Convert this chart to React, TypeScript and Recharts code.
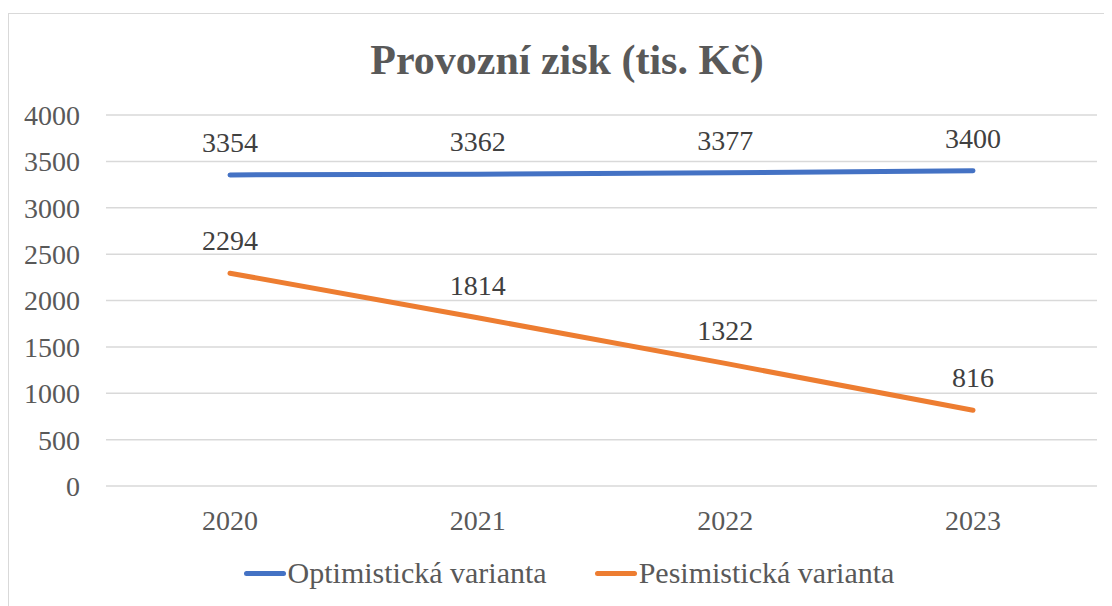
import { CartesianGrid, LabelList, Line, LineChart, XAxis, YAxis } from "recharts";

const years = ["2020", "2021", "2022", "2023"];
const optimistic = [3354, 3362, 3377, 3400];
const pessimistic = [2294, 1814, 1322, 816];
const yTicks = [0, 500, 1000, 1500, 2000, 2500, 3000, 3500, 4000];

const data = years.map((year, i) => ({
  year,
  optimistic: optimistic[i],
  pessimistic: pessimistic[i],
}));

const font = "'Liberation Serif', 'Times New Roman', serif";
const textColor = "#595959";

const legendItems = [
  { label: "Optimistická varianta", color: "#4472C4" },
  { label: "Pesimistická varianta", color: "#ED7D31" },
];

function ChartLegend() {
  return (
    <div
      style={{
        position: "absolute",
        top: 542,
        left: 0,
        width: 1120,
        display: "flex",
        justifyContent: "center",
        gap: 48,
        fontFamily: font,
        fontSize: 30,
        color: textColor,
      }}
    >
      {legendItems.map((item) => (
        <div key={item.label} style={{ display: "flex", alignItems: "center" }}>
          <span style={{ display: "inline-block", width: 42, height: 5, borderRadius: 3, background: item.color, marginRight: 2 }} />
          <span>{item.label}</span>
        </div>
      ))}
    </div>
  );
}

export default function App() {
  return (
    <div
      style={{
        position: "relative",
        marginTop: 5,
        width: 1130,
        height: 620,
        border: "1px solid #d9d9d9",
        background: "#fff",
        overflow: "hidden",
      }}
    >
      <div
        style={{
          position: "absolute",
          top: 22,
          left: 0,
          width: 1116,
          textAlign: "center",
          fontFamily: font,
          fontWeight: "bold",
          fontSize: 42,
          color: textColor,
        }}
      >
        Provozní zisk (tis. Kč)
      </div>
      <LineChart width={1130} height={600} data={data} margin={{ top: 101, right: 42, left: 0, bottom: 0 }}>
        <CartesianGrid vertical={false} stroke="#d9d9d9" strokeWidth={1.5} />
        <XAxis
          dataKey="year"
          axisLine={false}
          tickLine={false}
          tickMargin={18}
          height={128}
          padding={{ left: 124, right: 124 }}
          tick={{ fontFamily: font, fontSize: 28, fill: textColor }}
        />
        <YAxis
          domain={[0, 4000]}
          ticks={yTicks}
          width={97}
          axisLine={false}
          tickLine={false}
          tickMargin={20}
          tick={{ fontFamily: font, fontSize: 28, fill: textColor }}
        />
        <Line
          dataKey="optimistic"
          name="Optimistická varianta"
          stroke="#4472C4"
          strokeWidth={5}
          strokeLinecap="round"
          dot={false}
          activeDot={false}
          isAnimationActive={false}
        >
          <LabelList dataKey="optimistic" position="top" offset={23} style={{ fontFamily: font, fontSize: 28, fill: "#404040" }} />
        </Line>
        <Line
          dataKey="pessimistic"
          name="Pesimistická varianta"
          stroke="#ED7D31"
          strokeWidth={5}
          strokeLinecap="round"
          dot={false}
          activeDot={false}
          isAnimationActive={false}
        >
          <LabelList dataKey="pessimistic" position="top" offset={23} style={{ fontFamily: font, fontSize: 28, fill: "#404040" }} />
        </Line>
      </LineChart>
      <ChartLegend />
    </div>
  );
}
